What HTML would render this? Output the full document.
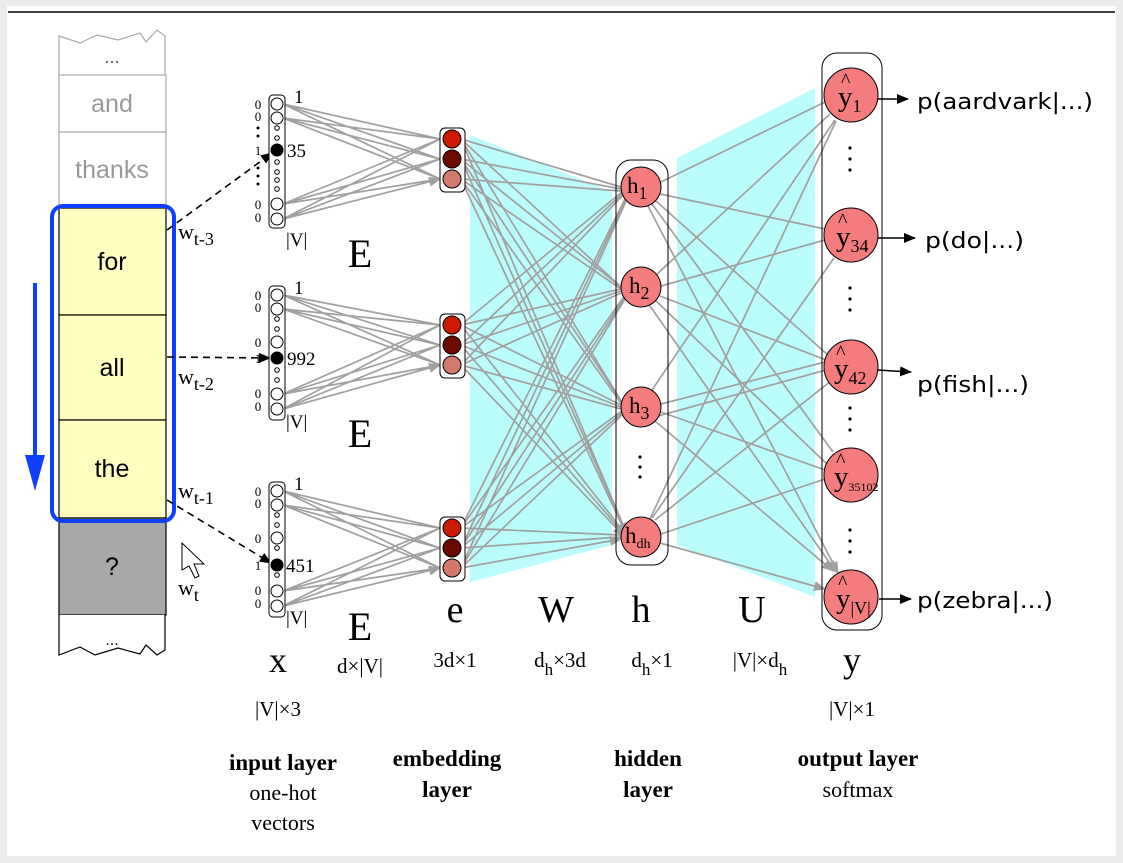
<!DOCTYPE html>
<html><head><meta charset="utf-8"><style>
html,body{margin:0;padding:0;background:#fff;}
svg{display:block;}
.s{font-family:"Liberation Serif",serif;}
.a{font-family:"Liberation Sans",sans-serif;}
.d{font-family:"DejaVu Sans","Liberation Sans",sans-serif;}
</style></head><body>
<svg width="1123" height="863" viewBox="0 0 1123 863" xmlns="http://www.w3.org/2000/svg">
<defs>
<marker id="ag" markerWidth="12" markerHeight="10" refX="11" refY="5" orient="auto" markerUnits="userSpaceOnUse"><path d="M0 0L12 5L0 10z" fill="#a0a0a0"/></marker>
<marker id="ak" markerWidth="12" markerHeight="10" refX="11" refY="5" orient="auto" markerUnits="userSpaceOnUse"><path d="M0 0L12 5L0 10z" fill="#000"/></marker>
</defs>
<rect x="0" y="0" width="1123" height="863" fill="#ececec"/>
<rect x="7" y="6" width="1109" height="850" fill="#fff"/>
<line x1="8" y1="12" x2="1115" y2="12" stroke="#000" stroke-width="1.5"/>

<!-- cyan -->
<polygon points="470,135 612,192 612,545 470,582" fill="#bbfdfd"/>
<polygon points="677,158 815,88 815,597 677,545" fill="#bbfdfd"/>

<!-- tape -->
<path d="M59 75L59 36L80 43L97 35L118 40L140 33L146 42L157 30L165 36L165 75" fill="#fff" stroke="#aaa" stroke-width="1.2"/>
<text x="112" y="63" class="a" font-size="18" text-anchor="middle" fill="#555">...</text>
<rect x="59" y="75" width="107" height="57" fill="#fff" stroke="#aaa" stroke-width="1.2"/>
<rect x="59" y="132" width="107" height="76" fill="#fff" stroke="#aaa" stroke-width="1.2"/>
<text x="112" y="112" class="a" font-size="25" text-anchor="middle" fill="#999">and</text>
<text x="112" y="178" class="a" font-size="25" text-anchor="middle" fill="#999">thanks</text>
<rect x="59" y="208" width="107" height="107" fill="#ffffc0" stroke="#000" stroke-width="1.2"/>
<rect x="59" y="315" width="107" height="105" fill="#ffffc0" stroke="#000" stroke-width="1.2"/>
<rect x="59" y="420" width="107" height="98" fill="#ffffc0" stroke="#000" stroke-width="1.2"/>
<rect x="59" y="518" width="107" height="97" fill="#a8a8a8" stroke="#000" stroke-width="1.2"/>
<text x="112" y="270" class="a" font-size="25" text-anchor="middle">for</text>
<text x="112" y="376" class="a" font-size="25" text-anchor="middle">all</text>
<text x="112" y="477" class="a" font-size="25" text-anchor="middle">the</text>
<text x="112" y="575" class="a" font-size="25" text-anchor="middle">?</text>
<path d="M59 615L59 655L80 647L95 655L118 648L140 654L146 645L157 655L165 650L165 615" fill="#fff" stroke="#000" stroke-width="1.2"/>
<text x="112" y="645" class="a" font-size="16" text-anchor="middle">...</text>
<rect x="52" y="206" width="122" height="315" rx="11" fill="none" stroke="#1040ff" stroke-width="4"/>
<line x1="35" y1="283" x2="35" y2="458" stroke="#1040ff" stroke-width="4"/>
<polygon points="25,455 45,455 35,491" fill="#1040ff"/>

<!-- w labels -->
<text x="178" y="239" class="s" font-size="22">w<tspan font-size="18" dy="6">t-3</tspan></text>
<text x="178" y="384" class="s" font-size="22">w<tspan font-size="18" dy="6">t-2</tspan></text>
<text x="178" y="498" class="s" font-size="22">w<tspan font-size="18" dy="6">t-1</tspan></text>
<text x="178" y="595" class="s" font-size="22">w<tspan font-size="18" dy="6">t</tspan></text>
<path d="M182 543L182 570L189 566L195 578L199 576L194 564L204 564Z" fill="#fff" stroke="#000" stroke-width="1"/>

<!-- dashed arrows -->
<g stroke="#000" stroke-width="1.6" stroke-dasharray="7,5" fill="none" marker-end="url(#ak)">
<line x1="167" y1="230" x2="272" y2="153"/>
<line x1="167" y1="357" x2="270" y2="358"/>
<line x1="167" y1="500" x2="271" y2="563"/>
</g>

<g stroke="#a0a0a0" stroke-width="1.7" fill="none" marker-end="url(#ag)">
<path d="M283 104L440 139M283 104L440 159M283 104L440 179M283 118L440 139M283 118L440 159M283 118L440 179M283 204L440 139M283 204L440 159M283 204L440 179M283 219L440 139M283 219L440 159M283 219L440 179"/>
<path d="M283 295L440 325M283 295L440 345M283 295L440 365M283 309L440 325M283 309L440 345M283 309L440 365M283 394L440 325M283 394L440 345M283 394L440 365M283 409L440 325M283 409L440 345M283 409L440 365"/>
<path d="M283 491L440 528M283 491L440 548M283 491L440 568M283 505L440 528M283 505L440 548M283 505L440 568M283 591L440 528M283 591L440 548M283 591L440 568M283 606L440 528M283 606L440 548M283 606L440 568"/>
<path d="M461 139L621 187M461 139L621 287M461 139L623 404M461 139L626 532M461 159L621 189M461 159L621 287M461 159L623 404M461 159L626 532M461 179L621 191M461 179L621 289M461 179L623 406M461 179L626 534"/>
<path d="M461 325L623 191M461 325L621 289M461 325L621 405M461 325L624 532M461 345L623 193M461 345L621 291M461 345L621 407M461 345L624 534M461 365L623 195M461 365L621 293M461 365L621 409M461 365L624 536"/>
<path d="M461 528L627 195M461 528L625 295M461 528L622 411M461 528L621 535M461 548L627 197M461 548L625 297M461 548L622 413M461 548L621 537M461 568L627 199M461 568L625 299M461 568L622 415M461 568L621 539"/>
<path d="M661 182L825 102M660 194L825 229M656 201L829 356M652 204L833 452M648 206L838 573"/>
<path d="M656 275L830 114M661 286L825 240M660 296L826 360M656 301L828 465M650 306L836 572"/>
<path d="M652 390L835 120M661 404L825 362M658 416L826 370M661 412L825 470M655 421L833 571"/>
<path d="M650 519L836 121M652 518L834 258M655 520L831 381M661 534L825 479M660 543L825 589"/>
</g>

<!-- input vectors -->
<g stroke="#000" stroke-width="1" fill="#fff">
<rect x="269" y="95" width="16" height="133" rx="4"/>
<rect x="269" y="286" width="16" height="134" rx="4"/>
<rect x="269" y="482" width="16" height="135" rx="4"/>
<circle cx="277" cy="104" r="6"/><circle cx="277" cy="118" r="6"/><circle cx="277" cy="204" r="6"/><circle cx="277" cy="219" r="6"/>
<circle cx="277" cy="128" r="2.3"/><circle cx="277" cy="138" r="2.3"/><circle cx="277" cy="162" r="2.3"/><circle cx="277" cy="172" r="2.3"/><circle cx="277" cy="180" r="2.3"/><circle cx="277" cy="189" r="2.3"/>
<circle cx="277" cy="150" r="6" fill="#000"/>
<circle cx="277" cy="295" r="6"/><circle cx="277" cy="309" r="6"/><circle cx="277" cy="342" r="6"/><circle cx="277" cy="394" r="6"/><circle cx="277" cy="409" r="6"/>
<circle cx="277" cy="319" r="2.3"/><circle cx="277" cy="329" r="2.3"/><circle cx="277" cy="370" r="2.3"/><circle cx="277" cy="380" r="2.3"/>
<circle cx="277" cy="358" r="6" fill="#000"/>
<circle cx="277" cy="491" r="6"/><circle cx="277" cy="505" r="6"/><circle cx="277" cy="538" r="6"/><circle cx="277" cy="591" r="6"/><circle cx="277" cy="606" r="6"/>
<circle cx="277" cy="515" r="2.3"/><circle cx="277" cy="525" r="2.3"/><circle cx="277" cy="548" r="2.3"/><circle cx="277" cy="575" r="2.3"/>
<circle cx="277" cy="565" r="6" fill="#000"/>
</g>
<g class="s" font-size="13" text-anchor="middle">
<text x="258" y="109">0</text><text x="258" y="121">0</text><text x="258" y="155">1</text><text x="258" y="209">0</text><text x="258" y="222">0</text>
<text x="258" y="300">0</text><text x="258" y="312">0</text><text x="258" y="347">0</text><text x="258" y="363">1</text><text x="258" y="398">0</text><text x="258" y="411">0</text>
<text x="258" y="496">0</text><text x="258" y="508">0</text><text x="258" y="543">0</text><text x="258" y="570">1</text><text x="258" y="595">0</text><text x="258" y="608">0</text>
</g>
<g fill="#000"><circle cx="258" cy="128" r="1.5"/><circle cx="258" cy="136" r="1.5"/><circle cx="258" cy="168" r="1.5"/><circle cx="258" cy="176" r="1.5"/><circle cx="258" cy="184" r="1.5"/></g>
<g class="s" font-size="19">
<text x="294" y="103">1</text><text x="287" y="157">35</text><text x="286" y="246">|V|</text>
<text x="294" y="294">1</text><text x="287" y="365">992</text><text x="286" y="428">|V|</text>
<text x="294" y="490">1</text><text x="286" y="572">451</text><text x="286" y="624">|V|</text>
</g>

<!-- embedding boxes -->
<g stroke="#000" stroke-width="1">
<rect x="440" y="128" width="25" height="64" rx="5" fill="#fff"/>
<rect x="440" y="314" width="25" height="64" rx="5" fill="#fff"/>
<rect x="440" y="517" width="25" height="64" rx="5" fill="#fff"/>
<circle cx="452" cy="139" r="9" fill="#cc1a00"/><circle cx="452" cy="159" r="9" fill="#6b0a00"/><circle cx="452" cy="179" r="9" fill="#d47a6c"/>
<circle cx="452" cy="325" r="9" fill="#cc1a00"/><circle cx="452" cy="345" r="9" fill="#6b0a00"/><circle cx="452" cy="365" r="9" fill="#d47a6c"/>
<circle cx="452" cy="528" r="9" fill="#cc1a00"/><circle cx="452" cy="548" r="9" fill="#6b0a00"/><circle cx="452" cy="568" r="9" fill="#d47a6c"/>
</g>

<!-- hidden -->
<rect x="616" y="160" width="52" height="405" rx="15" fill="none" stroke="#000" stroke-width="1"/>
<g stroke="#000" stroke-width="1" fill="#f47c7c">
<circle cx="641" cy="187" r="20"/><circle cx="641" cy="287" r="20"/><circle cx="641" cy="407" r="20"/><circle cx="641" cy="537" r="20"/>
</g>
<g class="s" font-size="23">
<text x="627" y="193">h<tspan font-size="18" dy="6">1</tspan></text>
<text x="629" y="293">h<tspan font-size="18" dy="6">2</tspan></text>
<text x="629" y="413">h<tspan font-size="18" dy="6">3</tspan></text>
<text x="625" y="543">h<tspan font-size="14" dy="5">dh</tspan></text>
</g>
<g fill="#000"><circle cx="640" cy="457" r="1.6"/><circle cx="640" cy="467" r="1.6"/><circle cx="640" cy="477" r="1.6"/></g>

<!-- output -->
<rect x="822" y="53" width="60" height="577" rx="15" fill="none" stroke="#000" stroke-width="1"/>
<g stroke="#000" stroke-width="1" fill="#f47c7c">
<circle cx="851" cy="95" r="27"/><circle cx="851" cy="235" r="27"/><circle cx="851" cy="367" r="27"/><circle cx="851" cy="475" r="27"/><circle cx="851" cy="597" r="27"/>
</g>
<g class="s" font-size="29">
<text x="838" y="106">y<tspan font-size="18" dy="6">1</tspan></text>
<text x="836" y="246">y<tspan font-size="18" dy="6">34</tspan></text>
<text x="834" y="378">y<tspan font-size="18" dy="6">42</tspan></text>
<text x="834" y="486">y<tspan font-size="12" dy="5">35102</tspan></text>
<text x="836" y="608">y<tspan font-size="18" dy="6">|V|</tspan></text>
<text x="841" y="87" font-size="20">^</text><text x="838" y="227" font-size="20">^</text><text x="836" y="359" font-size="20">^</text><text x="836" y="467" font-size="20">^</text><text x="838" y="589" font-size="20">^</text>
</g>
<g fill="#000">
<circle cx="850" cy="148" r="1.6"/><circle cx="850" cy="159" r="1.6"/><circle cx="850" cy="170" r="1.6"/>
<circle cx="850" cy="288" r="1.6"/><circle cx="850" cy="299" r="1.6"/><circle cx="850" cy="310" r="1.6"/>
<circle cx="850" cy="408" r="1.6"/><circle cx="850" cy="419" r="1.6"/><circle cx="850" cy="430" r="1.6"/>
<circle cx="850" cy="530" r="1.6"/><circle cx="850" cy="541" r="1.6"/><circle cx="850" cy="552" r="1.6"/>
</g>
<g stroke="#000" stroke-width="1.5" marker-end="url(#ak)">
<line x1="878" y1="99" x2="908" y2="99"/>
<line x1="878" y1="238" x2="915" y2="238"/>
<line x1="877" y1="370" x2="911" y2="372"/>
<line x1="879" y1="599" x2="911" y2="599"/>
</g>
<g class="d" font-size="22">
<text x="917" y="109" textLength="176" lengthAdjust="spacingAndGlyphs">p(aardvark|...)</text>
<text x="925" y="248" textLength="99" lengthAdjust="spacingAndGlyphs">p(do|...)</text>
<text x="917" y="392" textLength="112" lengthAdjust="spacingAndGlyphs">p(fish|...)</text>
<text x="917" y="608" textLength="136" lengthAdjust="spacingAndGlyphs">p(zebra|...)</text>
</g>

<!-- labels -->
<g class="s" text-anchor="middle">
<text x="360" y="267" font-size="40">E</text>
<text x="360" y="447" font-size="40">E</text>
<text x="360" y="640" font-size="40">E</text>
<text x="455" y="622" font-size="38">e</text>
<text x="556" y="622" font-size="38">W</text>
<text x="641" y="622" font-size="38">h</text>
<text x="752" y="622" font-size="38">U</text>
<text x="278" y="672" font-size="36">x</text>
<text x="852" y="672" font-size="36">y</text>
<text x="360" y="673" font-size="21">d×|V|</text>
<text x="455" y="667" font-size="21">3d×1</text>
<text x="560" y="667" font-size="21">d<tspan font-size="17" dy="8">h</tspan><tspan dy="-8">×3d</tspan></text>
<text x="652" y="667" font-size="21">d<tspan font-size="17" dy="8">h</tspan><tspan dy="-8">×1</tspan></text>
<text x="760" y="667" font-size="21">|V|×d<tspan font-size="17" dy="8">h</tspan></text>
<text x="278" y="716" font-size="21">|V|×3</text>
<text x="852" y="716" font-size="21">|V|×1</text>
<text x="283" y="770" font-size="23" font-weight="bold">input layer</text>
<text x="283" y="800" font-size="22">one-hot</text>
<text x="283" y="830" font-size="22">vectors</text>
<text x="447" y="766" font-size="23" font-weight="bold">embedding</text>
<text x="447" y="797" font-size="23" font-weight="bold">layer</text>
<text x="648" y="766" font-size="23" font-weight="bold">hidden</text>
<text x="648" y="797" font-size="23" font-weight="bold">layer</text>
<text x="858" y="766" font-size="23" font-weight="bold">output layer</text>
<text x="858" y="797" font-size="22">softmax</text>
</g>
</svg>
</body></html>
